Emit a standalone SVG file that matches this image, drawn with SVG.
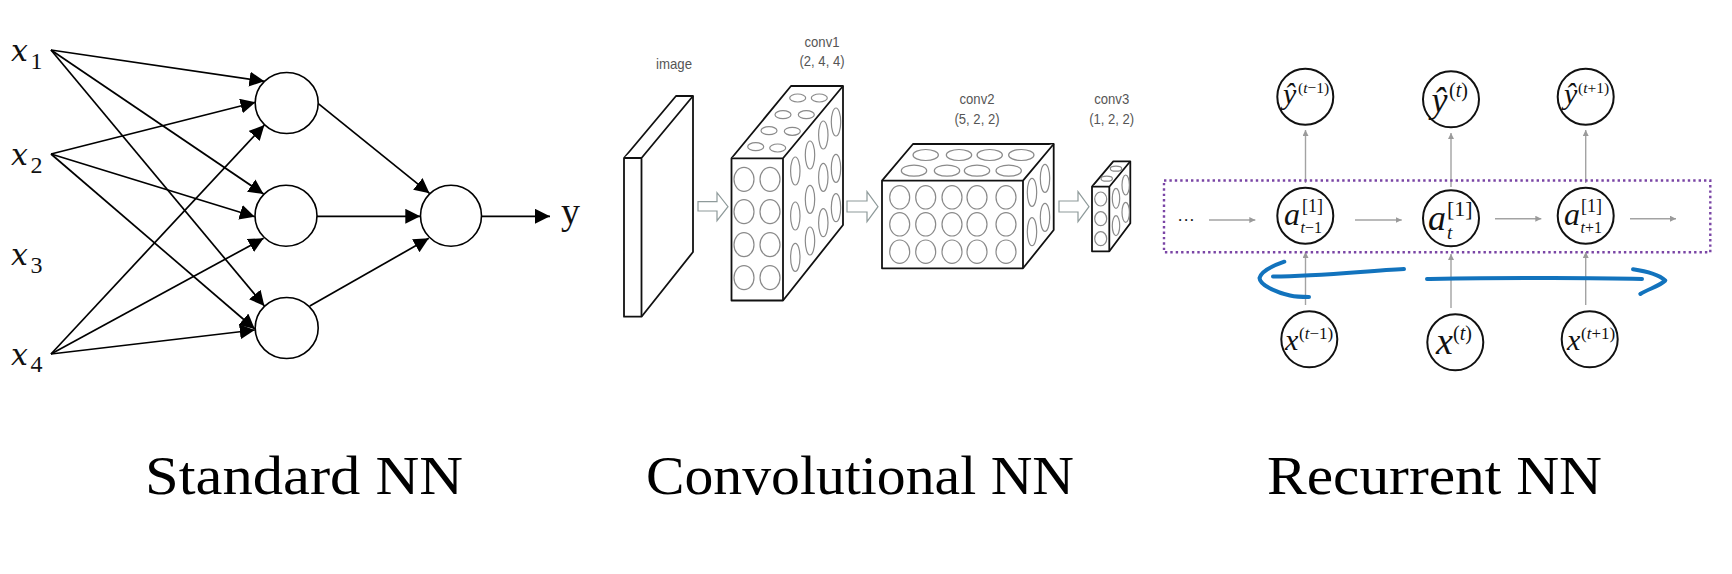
<svg xmlns="http://www.w3.org/2000/svg" width="1732" height="574" viewBox="0 0 1732 574">
<style>
text{font-family:"Liberation Serif","Times New Roman",serif;fill:#111}
.i{font-style:italic}
.t{font-size:54px;fill:#000}
.xl{font-family:"DejaVu Serif","Liberation Serif",serif;font-style:italic;font-size:30px}
.xs{font-family:"Liberation Serif",serif;font-size:24px}
.n{fill:#fff;stroke:#000;stroke-width:1.6}
.c{stroke:#000;stroke-width:1.7;fill:none;marker-end:url(#ah)}
.f{fill:#fff;stroke:#111;stroke-width:1.8;stroke-linejoin:round}
.g{fill:none;stroke:#8a8a8a;stroke-width:1.2}
.h{fill:#fff;stroke:#8e9a9a;stroke-width:1.2}
.l{font-family:"Liberation Sans",Arial,sans-serif;font-size:15px;fill:#555;text-anchor:middle}
.r{fill:#fff;stroke:#111;stroke-width:2}
.ra{stroke:#a3a3a3;stroke-width:1.4;fill:none;marker-end:url(#gh)}
.b{fill:none;stroke:#1273bd;stroke-width:4;stroke-linecap:round;stroke-linejoin:round}
</style>
<defs>
<marker id="ah" markerUnits="userSpaceOnUse" markerWidth="16" markerHeight="16" refX="15" refY="7.5" orient="auto"><path d="M0 0L15 7.5L0 15Z" fill="#000"/></marker>
<marker id="gh" markerUnits="userSpaceOnUse" markerWidth="7" markerHeight="7" refX="6" refY="3" orient="auto"><path d="M0 0L6 3L0 6Z" fill="#9a9a9a"/></marker>
</defs>
<rect width="1732" height="574" fill="#fff"/>

<g id="connectors">
<line class="c" x1="51" y1="50" x2="264.4" y2="81.3"/>
<line class="c" x1="51" y1="50" x2="263.6" y2="194"/>
<line class="c" x1="51" y1="50" x2="264.4" y2="306"/>
<line class="c" x1="51" y1="154" x2="255.5" y2="102.3"/>
<line class="c" x1="51" y1="154" x2="254.8" y2="216.7"/>
<line class="c" x1="51" y1="154" x2="254.8" y2="329"/>
<line class="c" x1="51" y1="354" x2="264.4" y2="125"/>
<line class="c" x1="51" y1="354" x2="263.6" y2="238.3"/>
<line class="c" x1="51" y1="354" x2="254.8" y2="330"/>
<line class="c" x1="318" y1="103.3" x2="429.5" y2="193.3"/>
<line class="c" x1="317" y1="216.3" x2="420.3" y2="216.3"/>
<line class="c" x1="309.8" y1="306" x2="428.8" y2="238.3"/>
<line class="c" x1="481.5" y1="216.3" x2="550" y2="216.3"/>
<line class="ra" x1="1305.5" y1="183" x2="1305.5" y2="130"/>
<line class="ra" x1="1451" y1="187" x2="1451" y2="133"/>
<line class="ra" x1="1585.7" y1="183" x2="1585.7" y2="130"/>
<line class="ra" x1="1305.5" y1="305" x2="1305.5" y2="252"/>
<line class="ra" x1="1451" y1="308" x2="1451" y2="254"/>
<line class="ra" x1="1585.7" y1="305" x2="1585.7" y2="252"/>
<line class="ra" x1="1209" y1="220" x2="1255.3" y2="220"/>
<line class="ra" x1="1355" y1="220" x2="1401.7" y2="220"/>
<line class="ra" x1="1495" y1="218.7" x2="1541.3" y2="218.7"/>
<line class="ra" x1="1630" y1="218.7" x2="1676" y2="218.7"/>
</g>

<g id="x1"><text class="xl" x="11" y="60.5">x</text><text class="xs" x="30.5" y="68.5">1</text></g>
<g id="x2"><text class="xl" x="11" y="165">x</text><text class="xs" x="30.5" y="172.7">2</text></g>
<g id="x3"><text class="xl" x="11" y="265">x</text><text class="xs" x="30.5" y="272.7">3</text></g>
<g id="x4"><text class="xl" x="11" y="365">x</text><text class="xs" x="30.5" y="372">4</text></g>
<g id="hidden1"><ellipse class="n" cx="286.7" cy="103" rx="31.5" ry="30.5"/></g>
<g id="hidden2"><ellipse class="n" cx="286" cy="215.7" rx="31" ry="30.5"/></g>
<g id="hidden3"><ellipse class="n" cx="286.7" cy="328" rx="31.5" ry="30.5"/></g>
<g id="output"><ellipse class="n" cx="451" cy="215.7" rx="30.5" ry="30.5"/></g>
<g id="y"><text x="561" y="224" font-size="38">y</text></g>

<g id="image">
<path class="f" d="M624 158L676 96H693V252L641.5 316.7H624Z"/>
<path class="f" d="M624 158H641.5L693 96M641.5 158V316.7"/>
<text class="l" x="674" y="69" textLength="36" lengthAdjust="spacingAndGlyphs">image</text>
</g>
<path class="h" d="M698 201.7H717V192.7L728 206.7L717 220.7V211H698Z"/>
<g id="conv1">
<path class="f" d="M731.5 158.3L791 86H843V225L783 300.5H731.5Z"/>
<path class="f" d="M731.5 158.3H783L843 86M783 158.3V300.5"/>
<g class="g">
<ellipse cx="755.7" cy="146.7" rx="8" ry="4"/><ellipse cx="777.7" cy="148" rx="8" ry="4"/><ellipse cx="769" cy="130.7" rx="8" ry="4"/><ellipse cx="792.3" cy="131.3" rx="8" ry="4"/><ellipse cx="783" cy="114.7" rx="8" ry="4"/><ellipse cx="806.3" cy="114.7" rx="8" ry="4"/><ellipse cx="797.7" cy="98" rx="8" ry="4"/><ellipse cx="819.3" cy="98" rx="8" ry="4"/>
<ellipse cx="744" cy="179.3" rx="10" ry="12"/><ellipse cx="770" cy="179.3" rx="10" ry="12"/><ellipse cx="744" cy="211.7" rx="10" ry="12"/><ellipse cx="770" cy="211.7" rx="10" ry="12"/><ellipse cx="744" cy="244.7" rx="10" ry="12"/><ellipse cx="770" cy="244.7" rx="10" ry="12"/><ellipse cx="744" cy="277.7" rx="10" ry="12"/><ellipse cx="770" cy="277.7" rx="10" ry="12"/>
<ellipse cx="795.3" cy="171" rx="4.7" ry="14"/><ellipse cx="795.3" cy="216" rx="4.7" ry="14"/><ellipse cx="795.3" cy="257.3" rx="4.7" ry="14"/>
<ellipse cx="810" cy="155" rx="4.7" ry="14"/><ellipse cx="810" cy="199.3" rx="4.7" ry="14"/><ellipse cx="810" cy="241" rx="4.7" ry="14"/>
<ellipse cx="823.3" cy="135" rx="4.7" ry="14"/><ellipse cx="823.3" cy="177.3" rx="4.7" ry="14"/><ellipse cx="823.3" cy="222.7" rx="4.7" ry="14"/>
<ellipse cx="836" cy="122" rx="4.7" ry="14"/><ellipse cx="836" cy="168.3" rx="4.7" ry="14"/><ellipse cx="836" cy="207.7" rx="4.7" ry="14"/>
</g>
<text class="l" x="822" y="47" textLength="35" lengthAdjust="spacingAndGlyphs">conv1</text><text class="l" x="822" y="65.5" textLength="45" lengthAdjust="spacingAndGlyphs">(2, 4, 4)</text>
</g>
<path class="h" d="M847 201H867V191.7L878 206.7L867 221.7V212H847Z"/>
<g id="conv2">
<path class="f" d="M882 180.7L913 144H1053.7V230L1023 268.3H882Z"/>
<path class="f" d="M882 180.7H1023L1053.7 144M1023 180.7V268.3"/>
<g class="g">
<ellipse cx="925.7" cy="155" rx="12.7" ry="5.5"/><ellipse cx="959" cy="155" rx="12.7" ry="5.5"/><ellipse cx="989.7" cy="155" rx="12.7" ry="5.5"/><ellipse cx="1021.3" cy="155" rx="12.7" ry="5.5"/>
<ellipse cx="914" cy="170.7" rx="12.7" ry="5.5"/><ellipse cx="947" cy="170.7" rx="12.7" ry="5.5"/><ellipse cx="977" cy="170.7" rx="12.7" ry="5.5"/><ellipse cx="1008.7" cy="170.7" rx="12.7" ry="5.5"/>
<ellipse cx="899.7" cy="197.3" rx="10" ry="11.7"/><ellipse cx="925.7" cy="197.3" rx="10" ry="11.7"/><ellipse cx="952" cy="197.3" rx="10" ry="11.7"/><ellipse cx="977" cy="197.3" rx="10" ry="11.7"/><ellipse cx="1006" cy="197.3" rx="10" ry="11.7"/>
<ellipse cx="899.7" cy="224.3" rx="10" ry="11.7"/><ellipse cx="925.7" cy="224.3" rx="10" ry="11.7"/><ellipse cx="952" cy="224.3" rx="10" ry="11.7"/><ellipse cx="977" cy="224.3" rx="10" ry="11.7"/><ellipse cx="1006" cy="224.3" rx="10" ry="11.7"/>
<ellipse cx="899.7" cy="251.7" rx="10" ry="11.7"/><ellipse cx="925.7" cy="251.7" rx="10" ry="11.7"/><ellipse cx="952" cy="251.7" rx="10" ry="11.7"/><ellipse cx="977" cy="251.7" rx="10" ry="11.7"/><ellipse cx="1006" cy="251.7" rx="10" ry="11.7"/>
<ellipse cx="1032" cy="192.3" rx="4.7" ry="14"/><ellipse cx="1045" cy="178.3" rx="4.7" ry="14"/><ellipse cx="1032" cy="231.7" rx="4.7" ry="14"/><ellipse cx="1045" cy="217.3" rx="4.7" ry="14"/>
</g>
<text class="l" x="977" y="104" textLength="35" lengthAdjust="spacingAndGlyphs">conv2</text><text class="l" x="977" y="123.5" textLength="45" lengthAdjust="spacingAndGlyphs">(5, 2, 2)</text>
</g>
<path class="h" d="M1059 201H1078V191.7L1089 206.7L1078 221.7V212H1059Z"/>
<g id="conv3">
<path class="f" d="M1092 186.7L1113.3 161.3H1130.3V223.3L1109.3 251.3H1092Z"/>
<path class="f" d="M1092 186.7H1109.3L1130.3 161.3M1109.3 186.7V251.3"/>
<g class="g">
<ellipse cx="1106.7" cy="178.7" rx="5.7" ry="2.5"/><ellipse cx="1116" cy="168.7" rx="5.7" ry="2.5"/>
<ellipse cx="1100.7" cy="199" rx="6" ry="7"/><ellipse cx="1100.7" cy="218.7" rx="6" ry="7"/><ellipse cx="1100.7" cy="238.7" rx="6" ry="7"/>
<ellipse cx="1116" cy="198.3" rx="3.7" ry="10"/><ellipse cx="1125.7" cy="185" rx="3.7" ry="10"/><ellipse cx="1116" cy="225.7" rx="3.7" ry="10"/><ellipse cx="1125.7" cy="212.3" rx="3.7" ry="10"/>
</g>
<text class="l" x="1111.7" y="104" textLength="35" lengthAdjust="spacingAndGlyphs">conv3</text><text class="l" x="1111.7" y="123.5" textLength="45" lengthAdjust="spacingAndGlyphs">(1, 2, 2)</text>
</g>

<rect id="rnn-box" x="1164" y="180.5" width="546.3" height="71.7" fill="none" stroke="#7a45a5" stroke-width="2.4" stroke-dasharray="2.4 3"/>
<text id="ellipsis" x="1178" y="221" font-size="17" font-family="Liberation Serif" textLength="16">...</text>

<g id="yhat-prev"><circle class="r" cx="1305.3" cy="96.7" r="28"/><text class="i" x="1283" y="104" font-size="30">ŷ</text><text x="1298" y="93" font-size="15.5">(<tspan class="i">t</tspan>−1)</text></g>
<g id="yhat-cur"><circle class="r" cx="1451" cy="99.3" r="28"/><text class="i" x="1431.5" y="112" font-size="36">ŷ</text><text x="1449" y="96.7" font-size="20">(<tspan class="i">t</tspan>)</text></g>
<g id="yhat-next"><circle class="r" cx="1585.7" cy="96.7" r="28"/><text class="i" x="1564" y="104" font-size="30">ŷ</text><text x="1578" y="93" font-size="15.5">(<tspan class="i">t</tspan>+1)</text></g>
<g id="a-prev"><circle class="r" cx="1305.3" cy="215.7" r="28"/><text class="i" x="1284" y="225" font-size="32">a</text><text x="1302" y="212" font-size="18">[1]</text><text x="1300.5" y="233" font-size="16"><tspan class="i">t</tspan>−1</text></g>
<g id="a-cur"><circle class="r" cx="1451" cy="218.3" r="28"/><text class="i" x="1428" y="230" font-size="36">a</text><text x="1447" y="216" font-size="22">[1]</text><text class="i" x="1447" y="239" font-size="19">t</text></g>
<g id="a-next"><circle class="r" cx="1585.7" cy="215.7" r="28"/><text class="i" x="1564" y="225" font-size="32">a</text><text x="1581" y="212" font-size="18">[1]</text><text x="1580.5" y="233" font-size="16"><tspan class="i">t</tspan>+1</text></g>
<g id="x-prev"><circle class="r" cx="1309.3" cy="339.3" r="28"/><text class="i" x="1285" y="350" font-size="30">x</text><text x="1299" y="339" font-size="17">(<tspan class="i">t</tspan>−1)</text></g>
<g id="x-cur"><circle class="r" cx="1455.3" cy="342.3" r="28"/><text class="i" x="1436" y="354" font-size="38">x</text><text x="1453" y="340" font-size="20">(<tspan class="i">t</tspan>)</text></g>
<g id="x-next"><circle class="r" cx="1589.7" cy="339.3" r="28"/><text class="i" x="1567" y="350" font-size="30">x</text><text x="1581" y="339" font-size="17">(<tspan class="i">t</tspan>+1)</text></g>

<g id="annotations">
<path class="b" d="M1404 269C1365 271 1320 276 1273 276.5"/>
<path class="b" d="M1284.3 261.7C1272 266 1261 272 1259.5 278C1260 285 1275 292 1290 295.5C1297 297 1303 297 1309 297"/>
<path class="b" d="M1427 279C1500 278 1570 277 1642 279"/>
<path class="b" d="M1633 269.3C1645 271 1658 274 1665.3 280.5C1660 286 1648 289 1640.3 294"/>
</g>

<text id="title-standard" class="t" x="145" y="494" textLength="318" lengthAdjust="spacingAndGlyphs">Standard NN</text>
<text id="title-conv" class="t" x="646" y="494" textLength="428" lengthAdjust="spacingAndGlyphs">Convolutional NN</text>
<text id="title-rec" class="t" x="1267" y="494" textLength="335" lengthAdjust="spacingAndGlyphs">Recurrent NN</text>
</svg>
